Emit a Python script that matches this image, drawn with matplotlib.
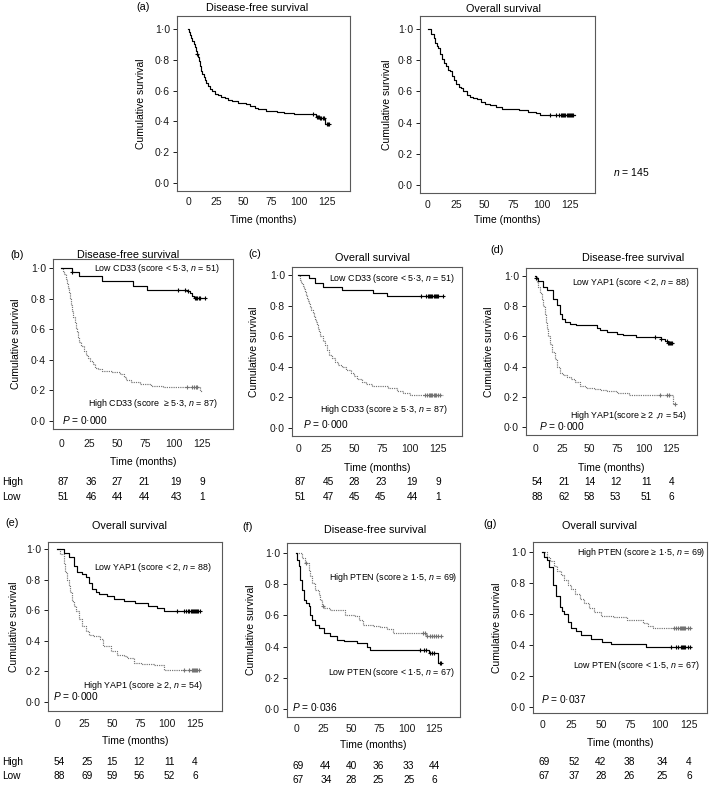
import numpy as np
import matplotlib
matplotlib.use('Agg')
import matplotlib.pyplot as plt
from matplotlib import transforms
from matplotlib.ticker import FuncFormatter

plt.rcParams['font.family'] = ['Liberation Sans', 'DejaVu Sans']
plt.rcParams['mathtext.fontset'] = 'custom'
plt.rcParams['mathtext.rm'] = 'Liberation Sans'
plt.rcParams['mathtext.it'] = 'Liberation Sans:italic'

# ---- data (time in months, cumulative survival) ----
a_dfs_t = [0, 1, 2, 3, 4, 5, 6, 7, 8, 9, 10, 11, 12, 13, 14, 15, 16, 18, 20, 22, 24, 27, 30, 33, 36, 40, 45, 52, 56, 60, 63, 70, 80, 86, 95, 115, 119, 123]
a_dfs_s = [1.0, 0.98, 0.96, 0.94, 0.92, 0.90, 0.88, 0.86, 0.84, 0.82, 0.79, 0.76, 0.73, 0.71, 0.69, 0.67, 0.65, 0.63, 0.61, 0.60, 0.58, 0.57, 0.56, 0.55, 0.54, 0.53, 0.52, 0.51, 0.50, 0.49, 0.48, 0.47, 0.46, 0.455, 0.445, 0.43, 0.42, 0.385]
a_dfs_end = 127
a_dfs_cens = [8, 112, 116, 117, 118, 119, 120, 121, 122, 125, 126, 127]

a_os_t = [0, 3, 5, 6, 8, 9, 11, 12, 14, 16, 18, 19, 21, 23, 25, 27, 29, 31, 34, 37, 40, 43, 47, 50, 55, 60, 65, 80, 88, 95, 99]
a_os_s = [1.0, 0.97, 0.94, 0.91, 0.89, 0.876, 0.84, 0.81, 0.78, 0.76, 0.74, 0.73, 0.70, 0.67, 0.65, 0.63, 0.62, 0.60, 0.58, 0.566, 0.56, 0.55, 0.53, 0.52, 0.51, 0.50, 0.49, 0.48, 0.47, 0.46, 0.45]
a_os_end = 129
a_os_cens = [107, 113, 115, 117, 118, 119, 120, 121, 122, 123, 124, 125, 126, 127, 128]

# (b) DFS by CD33
b_low_t = [0, 9.5, 16, 36, 64, 76, 112, 114, 116, 117.5]
b_low_s = [1.0, 0.978, 0.95, 0.915, 0.885, 0.86, 0.85, 0.835, 0.82, 0.805]
b_low_end = 128
b_low_cens = [10, 104, 110, 113, 119, 120, 121, 122, 123, 128]
b_high_t = [0, 2, 3, 4, 5, 6, 7, 8, 9, 10, 11, 12, 13, 14, 15, 16, 18, 20, 22, 24, 26, 28, 30, 33, 36, 45, 52, 56, 58, 62, 70, 80, 90, 123]
b_high_s = [1.0, 0.98, 0.96, 0.93, 0.90, 0.87, 0.84, 0.80, 0.76, 0.72, 0.68, 0.64, 0.61, 0.58, 0.55, 0.52, 0.49, 0.46, 0.43, 0.41, 0.39, 0.37, 0.35, 0.34, 0.33, 0.32, 0.31, 0.29, 0.27, 0.255, 0.24, 0.23, 0.22, 0.195]
b_high_end = 125
b_high_cens = [112, 116, 118, 120, 121]
b_risk_high = [87, 36, 27, 21, 19, 9]
b_risk_low = [51, 46, 44, 44, 43, 1]

# (c) OS by CD33
c_low_t = [0, 10, 15, 22, 39, 67, 79]
c_low_s = [1.0, 0.978, 0.945, 0.92, 0.905, 0.885, 0.862]
c_low_end = 129
c_low_cens = [110, 114, 116, 117, 118, 119, 120, 121, 122, 123, 124, 125, 129]
c_high_t = [0, 1, 2, 3, 4, 5, 6, 7, 8, 9, 10, 11, 12, 13, 14, 15, 16, 17, 18, 19, 20, 22, 24, 26, 28, 30, 33, 36, 39, 43, 47, 50, 53, 57, 61, 66, 80, 88, 94, 100]
c_high_s = [1.0, 0.99, 0.97, 0.95, 0.93, 0.91, 0.89, 0.87, 0.85, 0.83, 0.81, 0.79, 0.77, 0.75, 0.73, 0.71, 0.69, 0.67, 0.65, 0.63, 0.60, 0.57, 0.54, 0.51, 0.48, 0.46, 0.43, 0.41, 0.40, 0.38, 0.36, 0.34, 0.32, 0.30, 0.285, 0.275, 0.26, 0.245, 0.23, 0.215]
c_high_end = 129
c_high_cens = [113, 115, 117, 118, 119, 120, 121, 122, 123, 125, 127]
c_risk_high = [87, 45, 28, 23, 19, 9]
c_risk_low = [51, 47, 45, 45, 44, 1]

# (d) DFS by YAP1
d_low_t = [0, 1, 3, 7.6, 11.3, 16.8, 19.9, 22.9, 24.5, 27.5, 32, 38, 56.6, 59.6, 65.7, 75, 81, 93, 116, 119, 122]
d_low_s = [1.0, 0.99, 0.97, 0.927, 0.905, 0.85, 0.805, 0.75, 0.717, 0.695, 0.684, 0.673, 0.657, 0.64, 0.63, 0.618, 0.607, 0.596, 0.585, 0.567, 0.558]
d_low_end = 127
d_low_cens = [1, 110, 116, 121, 122, 123, 124, 125, 126]
d_high_t = [0, 1.5, 3, 4.6, 6, 7.6, 9, 10, 11, 12.2, 14, 16, 18, 20, 23, 26, 29, 33, 37, 41, 47, 54, 60, 66, 75, 86, 127]
d_high_s = [1.0, 0.96, 0.93, 0.89, 0.85, 0.80, 0.75, 0.69, 0.65, 0.60, 0.55, 0.50, 0.45, 0.40, 0.36, 0.345, 0.33, 0.315, 0.30, 0.27, 0.26, 0.25, 0.245, 0.24, 0.225, 0.21, 0.15]
d_high_end = 128
d_high_cens = [114.7, 121, 123, 128]
d_risk_high = [54, 21, 14, 12, 11, 4]
d_risk_low = [88, 62, 58, 53, 51, 6]

# (e) OS by YAP1
e_low_t = [0, 6, 11, 15, 18, 23, 26, 29, 32, 35, 38, 45, 52, 61, 71, 82, 91, 97]
e_low_s = [1.0, 0.974, 0.945, 0.89, 0.847, 0.836, 0.814, 0.78, 0.737, 0.716, 0.705, 0.694, 0.672, 0.66, 0.65, 0.628, 0.617, 0.595]
e_low_end = 130
e_low_cens = [109, 115, 117, 119, 120, 121, 122, 123, 124, 125, 126, 127, 128, 130]
e_high_t = [0, 3, 6, 7.6, 9, 10.6, 12, 13.6, 15, 17.6, 19.7, 22.7, 25.8, 28.8, 33, 39, 42, 48.5, 54.5, 60.6, 63.6, 69.7, 75.8, 88, 97]
e_high_s = [1.0, 0.967, 0.9, 0.847, 0.8, 0.76, 0.716, 0.66, 0.628, 0.595, 0.54, 0.497, 0.464, 0.44, 0.43, 0.41, 0.365, 0.333, 0.31, 0.3, 0.289, 0.256, 0.25, 0.245, 0.212]
e_high_end = 129
e_high_cens = [115, 120, 122, 123, 124, 125, 126, 127, 129]
e_risk_high = [54, 25, 15, 12, 11, 4]
e_risk_low = [88, 69, 59, 56, 52, 6]

# (f) DFS by PTEN
f_high_t = [0, 5.4, 8.4, 11.4, 13, 14.5, 17.5, 20.5, 22, 23.5, 25, 31, 44.6, 53.6, 56.6, 61, 70, 76, 82, 88, 118]
f_high_s = [1.0, 0.968, 0.936, 0.893, 0.85, 0.81, 0.765, 0.733, 0.70, 0.658, 0.647, 0.637, 0.605, 0.594, 0.573, 0.54, 0.534, 0.526, 0.513, 0.487, 0.466]
f_high_end = 131
f_high_cens = [9, 24, 115, 117, 119, 121, 123, 125, 127, 129, 131]
f_low_t = [0, 1, 2.4, 4, 5.4, 7, 9.3, 11.4, 13, 14.5, 17.5, 20.5, 25, 31, 37, 43, 55, 64, 67, 120, 129]
f_low_s = [1.0, 0.957, 0.915, 0.83, 0.765, 0.70, 0.68, 0.658, 0.605, 0.573, 0.54, 0.52, 0.487, 0.466, 0.444, 0.434, 0.423, 0.40, 0.38, 0.36, 0.295]
f_low_end = 131
f_low_cens = [112, 116, 118, 121, 123, 125, 130, 131]
f_risk_high = [69, 44, 40, 36, 33, 44]
f_risk_low = [67, 34, 28, 25, 25, 6]

# (g) OS by PTEN
g_high_t = [0, 4, 7, 10, 13, 16, 19, 22, 25, 28, 32, 36, 40, 44, 50, 60, 72, 86, 90, 94]
g_high_s = [1.0, 0.97, 0.94, 0.91, 0.88, 0.85, 0.82, 0.79, 0.76, 0.73, 0.70, 0.67, 0.64, 0.61, 0.59, 0.58, 0.56, 0.54, 0.52, 0.51]
g_high_end = 127
g_high_cens = [112, 114, 116, 117, 118, 119, 120, 121, 122, 124, 126]
g_low_t = [0, 2, 4, 6, 9, 12, 15, 17, 19, 22, 25, 29, 33, 42, 51, 59, 88]
g_low_s = [1.0, 0.97, 0.95, 0.905, 0.786, 0.714, 0.643, 0.62, 0.60, 0.55, 0.51, 0.49, 0.464, 0.44, 0.417, 0.405, 0.386]
g_low_end = 127
g_low_cens = [110, 114, 116, 118, 119, 120, 121, 122, 124, 126]
g_risk_high = [69, 52, 42, 38, 34, 4]
g_risk_low = [67, 37, 28, 26, 25, 6]

risk_times = [2, 27, 50, 74, 102, 125]
xticks = [0, 25, 50, 75, 100, 125]
yticks = [0.0, 0.2, 0.4, 0.6, 0.8, 1.0]

W, H = 709, 793
fig = plt.figure(figsize=(W / 100, H / 100), dpi=100)


def fx(x):
    return x / W


def fy(y):
    return 1 - y / H


def panel(L, R, T, B, xlim, ylim, tickpad, ylab_x, xlab_y):
    ax = fig.add_axes([L / W, 1 - B / H, (R - L) / W, (B - T) / H])
    ax.set_xlim(*xlim)
    ax.set_ylim(*ylim)
    ax.set_xticks(xticks)
    ax.set_yticks(yticks)
    ax.yaxis.set_major_formatter(FuncFormatter(lambda v, _: f'{v:.1f}'.replace('.', '\u00b7')))
    ax.tick_params(axis='x', length=0, pad=tickpad, labelsize=7.5, colors='0.1')
    ax.tick_params(axis='y', length=3, width=0.7, pad=2, labelsize=7.5, colors='0.1')
    for sp in ax.spines.values():
        sp.set_linewidth(0.8)
        sp.set_color('0.35')
    ax.set_xlabel('Time (months)', fontsize=7.5)
    ax.set_ylabel('Cumulative survival', fontsize=7.5)
    # label centres; shift to the anchor edges
    ax.yaxis.set_label_coords((ylab_x + 4 - L) / (R - L), 0.5)
    ax.xaxis.set_label_coords(0.5, (B - xlab_y + 4) / (B - T))
    return ax


def km(ax, t, s, end, cens, dotted=False):
    col = '0.45' if dotted else 'black'
    ls = (0, (1.0, 0.9)) if dotted else '-'
    t = np.asarray(t, float)
    s = np.asarray(s, float)
    ax.step(np.append(t, end), np.append(s, s[-1]), where='post', color=col, lw=0.85, ls=ls)
    ct = np.asarray(cens, float)
    cy = s[np.searchsorted(t, ct, side='right') - 1]
    ax.plot(ct, cy, ls='none', marker='+', ms=3.5, mew=0.8, color=col)


def risk(ax, high, low, y1, y2, labels=False):
    tr = transforms.blended_transform_factory(ax.transData, fig.transFigure)
    for t, h, l in zip(risk_times, high, low):
        ax.text(t, fy(y1), str(h), transform=tr, ha='center', va='center', fontsize=7.3)
        ax.text(t, fy(y2), str(l), transform=tr, ha='center', va='center', fontsize=7.3)
    if labels:
        fig.text(fx(2), fy(y1), 'High', ha='left', va='center', fontsize=7.3)
        fig.text(fx(2), fy(y2), 'Low', ha='left', va='center', fontsize=7.3)


def title(x, y, txt, tag=None, tx=None, ty=None):
    fig.text(fx(x), fy(y), txt, ha='center', va='center', fontsize=7.8)
    if tag:
        fig.text(fx(tx), fy(ty), tag, ha='center', va='center', fontsize=7.8)


# (a) whole cohort
ax = panel(177, 350, 16, 191, (-9.9, 145.7), (-0.052, 1.084), 4.5, 142, 219)
km(ax, a_dfs_t, a_dfs_s, a_dfs_end, a_dfs_cens)
title(257, 8, 'Disease-free survival', '(a)', 143, 7)

ax = panel(420, 595, 16, 193, (-7.0, 147), (-0.051, 1.083), 5, 388, 219)
km(ax, a_os_t, a_os_s, a_os_end, a_os_cens)
title(503, 9, 'Overall survival')
fig.text(fx(613), fy(172), '$n$ = 145', ha='left', va='center', fontsize=7.5)

# (b)
ax = panel(53, 233, 259, 429, (-7.1, 152.5), (-0.052, 1.06), 7, 17, 461)
km(ax, b_high_t, b_high_s, b_high_end, b_high_cens, dotted=True)
km(ax, b_low_t, b_low_s, b_low_end, b_low_cens)
ax.text(141, 1.0, 'Low CD33 (score < 5\u00b73, $n$ = 51)', ha='right', va='center', fontsize=6.4)
ax.text(139, 0.118, 'High CD33 (score  \u2265 5\u00b73, $n$ = 87)', ha='right', va='center', fontsize=6.4)
ax.text(1, 0.01, '$P$ = 0\u00b7000', ha='left', va='center', fontsize=7.3)
title(128, 255, 'Disease-free survival', '(b)', 17, 255)
risk(ax, b_risk_high, b_risk_low, 482, 497, labels=True)

# (c)
ax = panel(292, 462, 267, 436, (-5.4, 146.4), (-0.052, 1.052), 6, 255, 467)
km(ax, c_high_t, c_high_s, c_high_end, c_high_cens, dotted=True)
km(ax, c_low_t, c_low_s, c_low_end, c_low_cens)
ax.text(140, 0.98, 'Low CD33 (score < 5\u00b73, $n$ = 51)', ha='right', va='center', fontsize=6.4)
ax.text(133, 0.124, 'High CD33 (score \u2265 5\u00b73, $n$ = 87)', ha='right', va='center', fontsize=6.4)
ax.text(4.5, 0.026, '$P$ = 0\u00b7000', ha='left', va='center', fontsize=7.3)
title(373, 258, 'Overall survival', '(c)', 255, 254)
risk(ax, c_risk_high, c_risk_low, 482, 497)

# (d)
ax = panel(526, 697, 268, 435, (-8.3, 148.6), (-0.053, 1.053), 6.5, 490, 467)
km(ax, d_high_t, d_high_s, d_high_end, d_high_cens, dotted=True)
km(ax, d_low_t, d_low_s, d_low_end, d_low_cens)
ax.text(142, 0.96, 'Low YAP1 (score < 2, $n$ = 88)', ha='right', va='center', fontsize=6.4)
ax.text(139.5, 0.073, 'High YAP1(score \u2265 2 ,$n$ = 54)', ha='right', va='center', fontsize=6.4)
ax.text(3.7, 0.007, '$P$ = 0\u00b7000', ha='left', va='center', fontsize=7.3)
title(633, 258, 'Disease-free survival', '(d)', 497, 250)
risk(ax, d_risk_high, d_risk_low, 482, 497)

# (e)
ax = panel(48, 222, 542, 711, (-8.2, 149.5), (-0.059, 1.046), 6, 15, 740)
km(ax, e_high_t, e_high_s, e_high_end, e_high_cens, dotted=True)
km(ax, e_low_t, e_low_s, e_low_end, e_low_cens)
ax.text(140, 0.88, 'Low YAP1 (score < 2, $n$ = 88)', ha='right', va='center', fontsize=6.4)
ax.text(132, 0.105, 'High YAP1 (score \u2265 2, $n$ = 54)', ha='right', va='center', fontsize=6.4)
ax.text(-3.6, 0.04, '$P$ = 0\u00b7000', ha='left', va='center', fontsize=7.3)
title(130, 526, 'Overall survival', '(e)', 12, 523)
risk(ax, e_risk_high, e_risk_low, 762, 776, labels=True)

# (f)
ax = panel(287, 460, 543, 717, (-8.2, 148.5), (-0.051, 1.064), 5, 252, 744)
km(ax, f_high_t, f_high_s, f_high_end, f_high_cens, dotted=True)
km(ax, f_low_t, f_low_s, f_low_end, f_low_cens)
ax.text(146, 0.84, 'High PTEN (score \u2265 1\u00b75, $n$ = 69)', ha='right', va='center', fontsize=6.4)
ax.text(144, 0.237, 'Low PTEN (score < 1\u00b75, $n$ = 67)', ha='right', va='center', fontsize=6.4)
ax.text(-3.6, 0.013, '$P$ = 0\u00b7036', ha='left', va='center', fontsize=7.3)
title(375, 530, 'Disease-free survival', '(f)', 248, 527)
risk(ax, f_risk_high, f_risk_low, 766, 780)

# (g)
ax = panel(533, 707, 542, 713, (-7.7, 140.3), (-0.039, 1.065), 5, 498, 742)
km(ax, g_high_t, g_high_s, g_high_end, g_high_cens, dotted=True)
km(ax, g_low_t, g_low_s, g_low_end, g_low_cens)
ax.text(139, 1.0, 'High PTEN (score \u2265 1\u00b75, $n$ = 69)', ha='right', va='center', fontsize=6.4)
ax.text(134, 0.27, 'Low PTEN (score < 1\u00b75, $n$ = 67)', ha='right', va='center', fontsize=6.4)
ax.text(-1, 0.054, '$P$ = 0\u00b7037', ha='left', va='center', fontsize=7.3)
title(600, 526, 'Overall survival', '(g)', 490, 524)
risk(ax, g_risk_high, g_risk_low, 762, 776)

fig.savefig('out.png', dpi=100)
